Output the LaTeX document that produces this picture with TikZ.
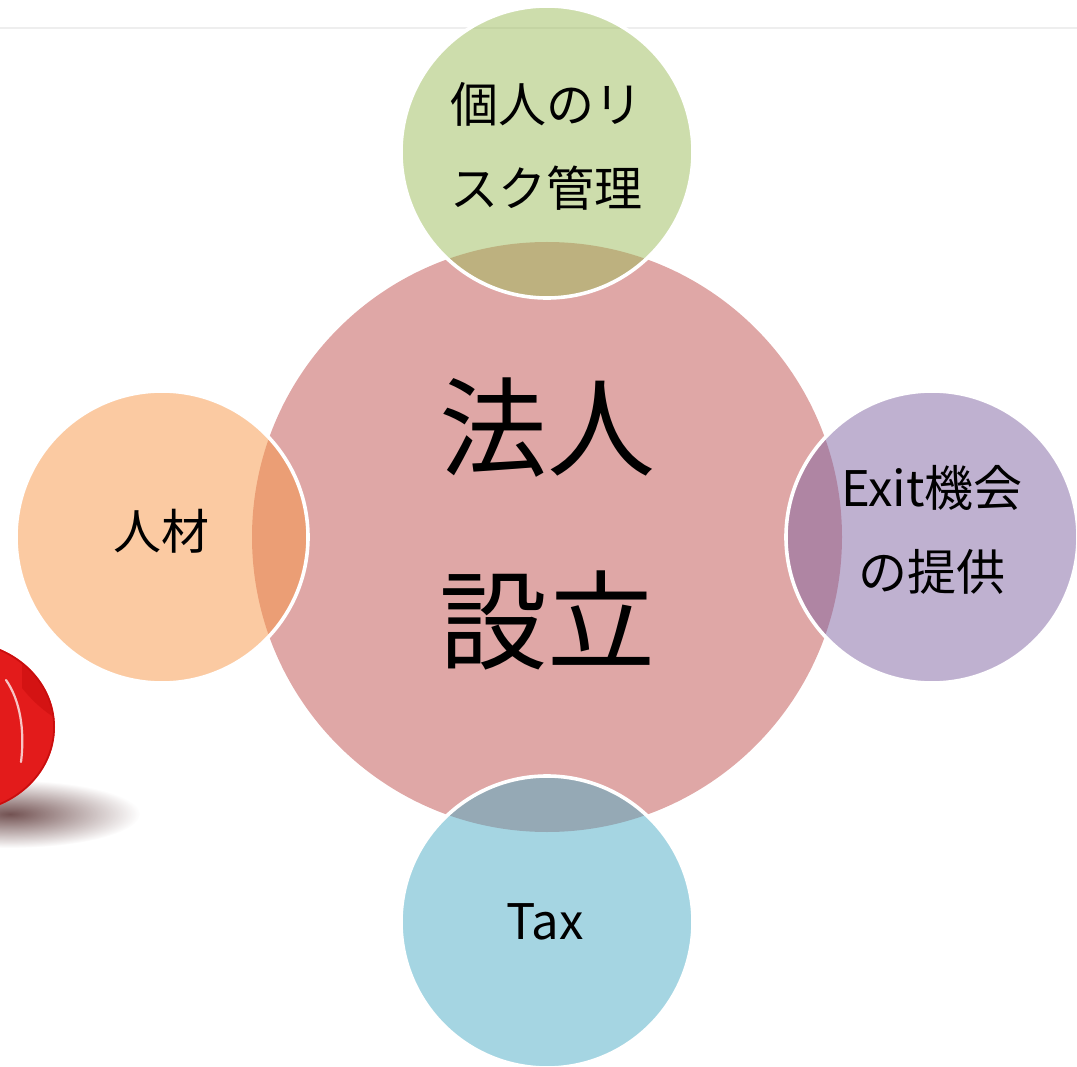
\documentclass[tikz,border=0pt]{standalone}
\usepackage{fontspec}
\setmainfont{Noto Sans CJK JP}
\definecolor{hubred}{HTML}{C0504D}
\definecolor{satgreen}{HTML}{9BBB59}
\definecolor{satorange}{HTML}{F79646}
\definecolor{satpurple}{HTML}{8064A2}
\definecolor{satblue}{HTML}{4BACC6}
\definecolor{rulegray}{HTML}{EEEEEE}
\definecolor{gemred}{HTML}{E31B1B}
\definecolor{gemdark}{HTML}{C80E0E}
\definecolor{shadowbrown}{HTML}{5A3434}
\tikzset{
  hub/.style={circle, minimum size=590pt, inner sep=0pt, fill=hubred, fill opacity=0.5},
  sat/.style={circle, minimum size=292pt, inner sep=0pt, fill opacity=0.5,
              draw=white, draw opacity=1, line width=3.6pt},
  bigtxt/.style={align=center, inner sep=0pt, font=\fontsize{108pt}{193pt}\selectfont},
  smalltxt/.style={align=center, inner sep=0pt, font=\fontsize{48pt}{84pt}\selectfont},
  latintxt/.style={smalltxt, font=\fontsize{49pt}{84pt}\selectfont},
}
\begin{document}
\begin{tikzpicture}[x=1pt,y=-1pt]
\useasboundingbox (0,0) rectangle (1077,1067);
\clip (0,0) rectangle (1077,1067);

% thin rule across the top
\draw[rulegray, line width=2pt] (0,28) -- (1077,28);

% red glossy object at the lower left, with its soft shadow
\shade[inner color=shadowbrown, outer color=white, opacity=0.85]
  (10,814) ellipse [x radius=130pt, y radius=34pt];
\fill[gemred] (-40,727) ellipse [x radius=95pt, y radius=86pt];
\draw[gemdark, line width=1.5pt] (-40,727) ellipse [x radius=94pt, y radius=85pt];
\fill[gemdark, opacity=0.55] (22,664) .. controls (40,676) and (50,696) .. (52,716)
  .. controls (40,708) and (30,698) .. (22,688) -- cycle;
\draw[white, opacity=0.75, line width=2.2pt, line cap=round]
  (6,680) .. controls (20,700) and (25,730) .. (21,762);

% circles
\node[hub] (hub) at (547,537) {};
\node[sat, fill=satgreen]  (top)    at (547,152) {};
\node[sat, fill=satorange] (left)   at (162,537) {};
\node[sat, fill=satpurple] (right)  at (932,537) {};
\node[sat, fill=satblue]   (bottom) at (547,922) {};

% labels
\node[bigtxt]   (hubtext)    at (547,524) {法人\\設立};
\node[smalltxt] (toptext)    at (546,146) {個人のリ\\スク管理};
\node[smalltxt] (lefttext)   at (161,531) {人材};
\node[latintxt] (righttext)  at (932,530) {Exit機会\\の提供};
\node[latintxt] (bottomtext) at (545,922) {Tax};
\end{tikzpicture}
\end{document}
